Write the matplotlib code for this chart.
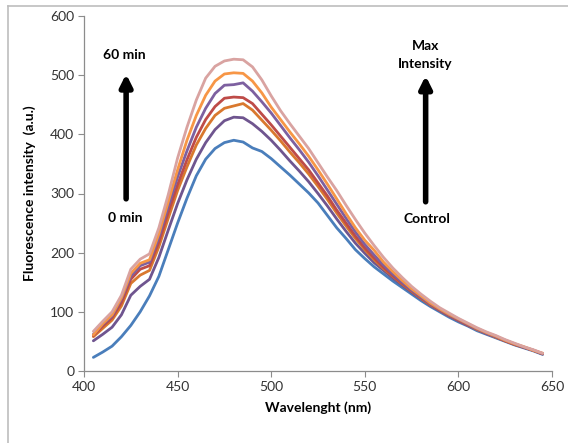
import matplotlib
matplotlib.use("Agg")
import matplotlib.pyplot as plt
from matplotlib.lines import Line2D

plt.rcParams['font.family'] = ['Lato', 'DejaVu Sans']

# wavelength (nm)
wl = [405, 410, 415, 420, 425, 430, 435, 440, 445, 450, 455, 460, 465, 470, 475,
      480, 485, 490, 495, 500, 505, 510, 515, 520, 525, 530, 535, 540, 545, 550,
      555, 560, 565, 570, 575, 580, 585, 590, 595, 600, 605, 610, 615, 620, 625,
      630, 635, 640, 645]

# fluorescence intensity, 0 min -> 60 min
t0 = [23, 32, 42, 58, 77, 100, 127, 160, 205, 250, 292, 330, 358, 376, 386,
      390, 387, 377, 371, 359, 345, 331, 316, 301, 284, 263, 242, 224, 205, 190,
      176, 164, 152, 141, 130, 119, 109, 100, 91, 83, 76, 68, 62, 56, 50,
      44, 39, 34, 28]
t1 = [51, 62, 74, 95, 128, 143, 155, 192, 238, 283, 323, 358, 386, 408, 423,
      429, 428, 418, 405, 390, 373, 355, 338, 320, 300, 279, 257, 236, 216, 199,
      183, 170, 157, 145, 133, 122, 111, 102, 93, 85, 77, 70, 63, 57, 51,
      45, 40, 35, 29]
t2 = [58, 72, 86, 110, 148, 162, 170, 210, 258, 305, 345, 382, 410, 432, 444,
      448, 452, 441, 424, 407, 389, 370, 352, 333, 312, 290, 267, 245, 224, 205,
      188, 173, 160, 147, 135, 123, 112, 103, 94, 86, 78, 70, 64, 57, 51,
      45, 40, 35, 29]
t3 = [60, 76, 90, 116, 155, 172, 178, 218, 268, 315, 357, 395, 425, 447, 461,
      463, 462, 452, 434, 416, 397, 378, 359, 340, 318, 296, 272, 250, 228, 208,
      191, 175, 161, 148, 136, 124, 113, 103, 94, 86, 78, 71, 64, 58, 51,
      45, 40, 35, 29]
t4 = [62, 79, 93, 122, 160, 178, 184, 226, 278, 328, 372, 412, 444, 469, 483,
      484, 487, 473, 455, 436, 415, 394, 374, 353, 330, 306, 282, 258, 235, 214,
      196, 179, 164, 150, 137, 125, 114, 104, 95, 87, 79, 71, 64, 58, 52,
      46, 40, 35, 29]
t5 = [61, 80, 95, 124, 165, 182, 188, 232, 286, 340, 390, 432, 466, 490, 502,
      504, 503, 490, 470, 446, 425, 404, 384, 363, 340, 316, 291, 266, 242, 221,
      204, 184, 168, 153, 139, 127, 115, 105, 96, 88, 80, 72, 65, 59, 52,
      46, 41, 35, 30]
t6 = [67, 84, 100, 128, 172, 189, 198, 242, 298, 360, 412, 458, 495, 515, 524,
      527, 526, 514, 492, 465, 440, 418, 397, 376, 352, 328, 305, 280, 256, 233,
      212, 192, 174, 158, 143, 130, 118, 107, 98, 89, 81, 73, 66, 60, 53,
      47, 41, 36, 30]

series = [t0, t1, t2, t3, t4, t5, t6]
colors = ['#4A7EBB', '#6F558F', '#D9782E', '#BE4B48', '#7D60A0', '#F79646', '#D9A3A1']

fig = plt.figure(figsize=(5.68, 4.43), dpi=100)
ax = fig.add_axes([84/568, 1-371/443, (552-84)/568, (371-16)/443])

for s, c in zip(series, colors):
    ax.plot(wl, s, color=c, lw=2.0, solid_capstyle='round', solid_joinstyle='round')

ax.set_xlim(400, 650)
ax.set_ylim(0, 600)
ax.set_xticks([400, 450, 500, 550, 600, 650])
ax.set_yticks([0, 100, 200, 300, 400, 500, 600])
for side in ['top', 'right']:
    ax.spines[side].set_visible(False)
for side in ['left', 'bottom']:
    ax.spines[side].set_color('#8C8C8C')
    ax.spines[side].set_linewidth(0.9)
ax.tick_params(direction='out', length=4, color='#8C8C8C', labelsize=10,
               labelcolor='#333333', pad=3)

ax.set_xlabel('Wavelenght (nm)', fontsize=10, fontweight='bold', labelpad=6)
ax.set_ylabel('Fluorescence intensity  (a.u.)', fontsize=10, fontweight='bold', labelpad=10)

# arrows and notes
arrow = dict(arrowstyle='-|>,head_width=0.35,head_length=0.7', lw=4, color='black',
             shrinkA=0, shrinkB=0)
ax.annotate('', xy=(422.5, 502), xytext=(422.5, 291), arrowprops=arrow)
ax.annotate('', xy=(582.5, 499), xytext=(582.5, 286), arrowprops=arrow)

ax.text(421.5, 534, '60 min', ha='center', va='center', fontsize=10, fontweight='bold')
ax.text(422, 258, '0 min', ha='center', va='center', fontsize=10, fontweight='bold')
ax.text(582.5, 549, 'Max', ha='center', va='center', fontsize=10, fontweight='bold')
ax.text(582.5, 519, 'Intensity', ha='center', va='center', fontsize=10, fontweight='bold')
ax.text(583, 257, 'Control', ha='center', va='center', fontsize=10, fontweight='bold')

# outer chart frame
fig.add_artist(Line2D([8/568, 1], [1-6/443, 1-6/443], color='#BDBDBD', lw=1.2))
fig.add_artist(Line2D([8/568, 8/568], [0, 1-6/443], color='#BDBDBD', lw=1.2))

fig.savefig('out.png', dpi=100)
